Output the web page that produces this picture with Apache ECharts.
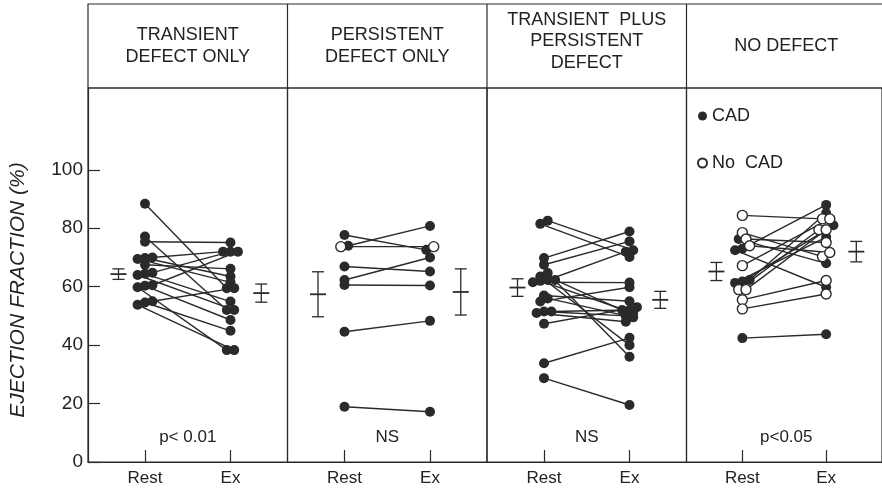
<!DOCTYPE html>
<html><head><meta charset="utf-8">
<script src="https://cdn.jsdelivr.net/npm/echarts@6/dist/echarts.min.js"></script>
<style>html,body{margin:0;padding:0;background:#fff}#c{width:882px;height:494px}</style>
</head><body><div id="c"></div>
<script>
// ---- data ----
const panelTitles = [['TRANSIENT','DEFECT ONLY'], ['PERSISTENT','DEFECT ONLY'], ['TRANSIENT  PLUS','PERSISTENT','DEFECT'], ['NO DEFECT']];
const pLabels = ['p< 0.01', 'NS', 'NS', 'p<0.05'];
const xLabels = ['Rest', 'Ex'];
const yTicks = [0, 20, 40, 60, 80, 100];
const yTitle = 'EJECTION FRACTION (%)';
const legendNames = ['CAD', 'No  CAD'];

// panel 1: transient defect only
const p1Rest = [88.4,77.2,75.4,70.0,69.8,69.5,67.5,64.8,64.4,64.0,60.5,60.3,59.8,55.0,54.6,53.8];
const p1Ex   = [59.5,52.0,75.1,72.0,63.5,61.5,66.1,72.0,54.9,52.0,72.0,48.6,38.3,59.5,44.9,38.3];
const p1Cad  = [1,1,1,1,1,1,1,1,1,1,1,1,1,1,1,1];
// panel 2: persistent defect only
const p2Rest = [77.7,74.0,73.7,66.9,62.3,60.6,44.6,18.9];
const p2Ex   = [72.6,80.8,73.7,65.2,70.0,60.4,48.3,17.2];
const p2Cad  = [1,1,0,1,1,1,1,1];
// panel 3: transient plus persistent defect
const p3Rest = [82.6,81.5,69.8,67.5,64.7,63.5,62.3,62.3,62.0,61.5,57.0,56.0,54.9,51.5,51.5,51.0,47.3,33.8,28.7];
const p3Ex   = [72.5,70.2,78.9,75.5,36.0,40.0,72.0,52.0,51.0,61.4,55.0,49.5,59.8,50.0,52.0,48.0,53.0,42.5,19.5];
const p3Cad  = [1,1,1,1,1,1,1,1,1,1,1,1,1,1,1,1,1,1,1];
// panel 4: no defect
const p4Rest = [76.3,73.0,72.5,62.3,61.8,61.3,42.4,84.4,78.5,76.3,74.0,67.2,59.0,59.0,55.5,52.4];
const p4Ex   = [68.0,88.0,59.8,85.2,81.0,77.0,43.7,83.2,70.3,75.1,71.7,83.2,79.5,79.5,62.1,57.5];
const p4Cad  = [1,1,1,1,1,1,1,0,0,0,0,0,0,0,0,0];

// mean ± SE bars
const restMean = [64.3, 57.4, 59.7, 65.2];
const restSE   = [1.8, 7.7, 3.0, 3.1];
const exMean   = [57.8, 58.2, 55.5, 72.0];
const exSE     = [3.1, 7.9, 2.9, 3.5];

// ---- layout / style ----
const INK = '#2a2a2a';
const FONT = '"Liberation Sans", Arial, sans-serif';
const L0 = 88, PW = 199.5, TOP = 88, H = 374, HEAD_TOP = 4;
const X_MIN = 0, X_MAX = 7, X_REST = 2, X_EX = 5, X_BAR_R = 1.07, X_BAR_E = 6.08;
const JIT = 0.26, CLUSTER = 1.6;
const panels = [
  {rest:p1Rest, ex:p1Ex, cad:p1Cad},
  {rest:p2Rest, ex:p2Ex, cad:p2Cad},
  {rest:p3Rest, ex:p3Ex, cad:p3Cad},
  {rest:p4Rest, ex:p4Ex, cad:p4Cad}
];

// horizontal de-overlap of near-equal values (visual layout only)
function spread(vals) {
  const idx = vals.map((v, k) => k).sort((a, b) => vals[a] - vals[b]);
  const off = new Array(vals.length).fill(0);
  let group = [];
  const flush = () => {
    const n = group.length;
    group.forEach((k, j) => { off[k] = (j - (n - 1) / 2) * JIT; });
    group = [];
  };
  idx.forEach(k => {
    if (group.length && (vals[k] - vals[group[0]] > CLUSTER || group.length >= 4)) flush();
    group.push(k);
  });
  flush();
  return off;
}

const grids = [], xAxes = [], yAxes = [], series = [], graphics = [];
panels.forEach((p, i) => {
  grids.push({left: L0 + PW * i, top: TOP, width: PW, height: H, show: true,
    borderColor: INK, borderWidth: 1.2, backgroundColor: 'transparent'});
  xAxes.push({gridIndex: i, type: 'value', min: X_MIN, max: X_MAX,
    axisLine: {show: true, lineStyle: {color: INK, width: 1.2}},
    axisTick: {show: true, inside: true, length: 12, customValues: [X_REST, X_EX], lineStyle: {color: INK, width: 1.2}},
    axisLabel: {customValues: [X_REST, X_EX], formatter: v => v === X_REST ? xLabels[0] : xLabels[1],
      fontSize: 17, color: '#222', fontFamily: FONT, margin: 8},
    splitLine: {show: false}});
  if (i === 0) {
    yAxes.push({gridIndex: i, type: 'value', min: 0, max: 128,
      axisLine: {show: true, lineStyle: {color: INK, width: 1.2}},
      axisTick: {show: true, inside: true, length: 12, customValues: yTicks, lineStyle: {color: INK, width: 1.2}},
      axisLabel: {customValues: yTicks, fontSize: 19, color: '#222', fontFamily: FONT, margin: 5},
      splitLine: {show: false}});
  } else {
    yAxes.push({gridIndex: i, type: 'value', min: 0, max: 128, show: false, splitLine: {show: false}});
  }
  const offR = spread(p.rest), offE = spread(p.ex);
  const cadPts = [], noPts = [];
  p.rest.forEach((r, k) => {
    const a = [X_REST + offR[k], r], b = [X_EX + offE[k], p.ex[k]];
    series.push({type: 'line', xAxisIndex: i, yAxisIndex: i, data: [a, b],
      symbol: 'none', showSymbol: false, silent: true, z: 2,
      lineStyle: {color: INK, width: 1.4}});
    const arr = p.cad[k] ? cadPts : noPts;
    arr.push(a); arr.push(b);
  });
  series.push({type: 'scatter', name: legendNames[0], xAxisIndex: i, yAxisIndex: i, data: cadPts,
    symbol: 'circle', symbolSize: 10, itemStyle: {color: INK, opacity: 1}, z: 4});
  series.push({type: 'scatter', name: legendNames[1], xAxisIndex: i, yAxisIndex: i, data: noPts,
    symbol: 'circle', symbolSize: 10, itemStyle: {color: '#fff', borderColor: INK, borderWidth: 1.4, opacity: 1}, z: 5});
  series.push({type: 'custom', xAxisIndex: i, yAxisIndex: i, z: 3, silent: true,
    data: [[X_BAR_R, restMean[i], restSE[i]], [X_BAR_E, exMean[i], exSE[i]]],
    renderItem: (params, api) => {
      const x = api.value(0), m = api.value(1), s = api.value(2);
      const c = api.coord([x, m]), t = api.coord([x, m + s]), b = api.coord([x, m - s]);
      const st = {stroke: INK, lineWidth: 1.3};
      return {type: 'group', children: [
        {type: 'line', shape: {x1: c[0], y1: t[1], x2: c[0], y2: b[1]}, style: st},
        {type: 'line', shape: {x1: c[0] - 6, y1: t[1], x2: c[0] + 6, y2: t[1]}, style: st},
        {type: 'line', shape: {x1: c[0] - 6, y1: b[1], x2: c[0] + 6, y2: b[1]}, style: st},
        {type: 'line', shape: {x1: c[0] - 8, y1: c[1], x2: c[0] + 8, y2: c[1]}, style: {stroke: INK, lineWidth: 1.8}}
      ]};
    }});
  // header texts
  const lines = panelTitles[i];
  const cx = L0 + PW * i + PW / 2;
  const lh = 21.5;
  const cy = lines.length === 3 ? 41.5 : 46;
  lines.forEach((t, j) => {
    graphics.push({type: 'text', x: cx, y: cy + (j - (lines.length - 1) / 2) * lh,
      style: {text: t, fill: '#222', font: '18px ' + FONT, textAlign: 'center', textVerticalAlign: 'middle'}});
  });
  graphics.push({type: 'text', x: cx, y: 437,
    style: {text: pLabels[i], fill: '#222', font: '17px ' + FONT, textAlign: 'center', textVerticalAlign: 'middle'}});
  if (i > 0) {
    graphics.push({type: 'line', shape: {x1: L0 + PW * i, y1: HEAD_TOP, x2: L0 + PW * i, y2: TOP},
      style: {stroke: INK, lineWidth: 1.2}});
  }
});
graphics.push({type: 'rect', shape: {x: L0, y: HEAD_TOP, width: PW * 4, height: TOP - HEAD_TOP},
  style: {fill: 'none', stroke: INK, lineWidth: 1.2}});
graphics.push({type: 'text', x: 18, y: 290, rotation: Math.PI / 2,
  style: {text: yTitle, fill: '#222', font: 'italic 21px ' + FONT, textAlign: 'center', textVerticalAlign: 'middle'}});

const chart = echarts.init(document.getElementById('c'), null, {renderer: 'canvas'});
chart.setOption({
  animation: false,
  backgroundColor: '#fff',
  grid: grids, xAxis: xAxes, yAxis: yAxes, series: series,
  legend: {orient: 'vertical', left: 692, top: 102, itemGap: 29, itemWidth: 9, itemHeight: 9,
    selectedMode: false,
    data: [{name: legendNames[0], icon: 'circle'}, {name: legendNames[1], icon: 'circle'}],
    textStyle: {fontSize: 18, color: '#222', fontFamily: FONT}},
  graphic: graphics
});
</script></body></html>
